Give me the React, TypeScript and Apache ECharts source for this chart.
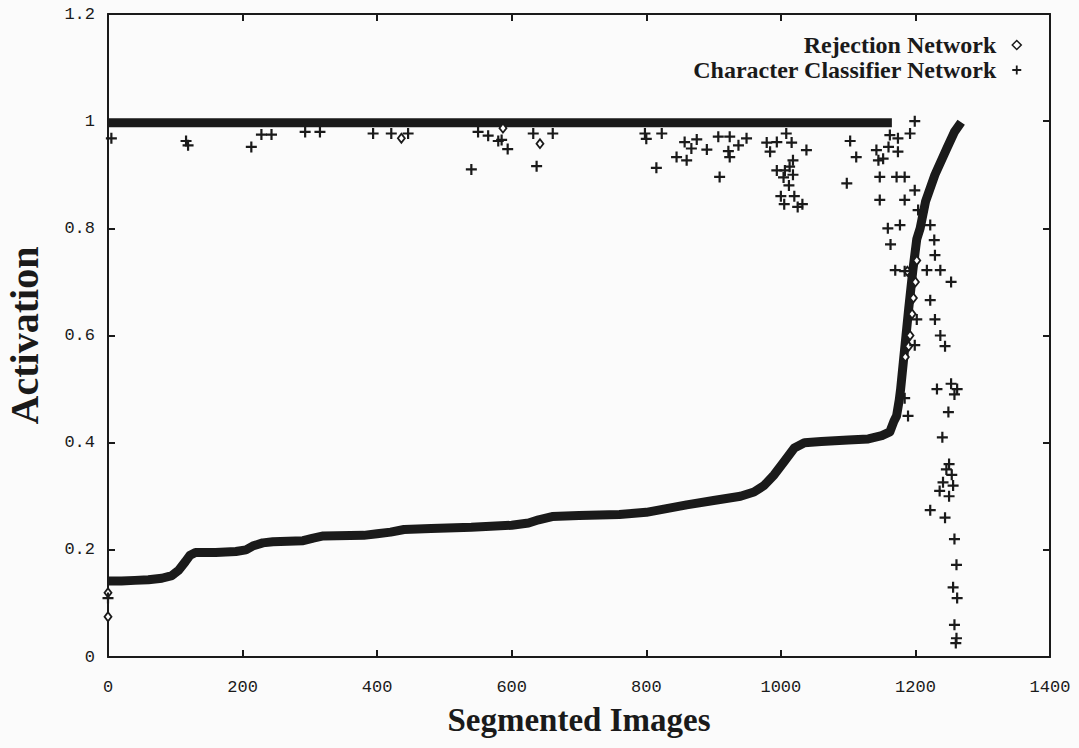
import React, { useEffect, useRef } from "react";
import * as echarts from "echarts";

const xTicks = [0, 200, 400, 600, 800, 1000, 1200, 1400];
const yTicks = [0, 0.2, 0.4, 0.6, 0.8, 1, 1.2];
const seriesNames = ["Rejection Network", "Character Classifier Network"];

// Rejection network activation (sorted curve)
const rejectionCurve: [number, number][] = [
  [0, 0.142], [20, 0.142], [40, 0.143], [60, 0.144], [80, 0.147], [95, 0.152],
  [105, 0.162], [115, 0.178], [122, 0.19], [130, 0.195], [160, 0.195], [190, 0.197],
  [205, 0.2], [215, 0.207], [230, 0.213], [245, 0.215], [290, 0.217], [305, 0.222],
  [320, 0.226], [380, 0.227], [400, 0.23], [420, 0.233], [440, 0.238], [480, 0.24],
  [540, 0.242], [600, 0.246], [625, 0.25], [640, 0.256], [660, 0.262], [700, 0.264],
  [760, 0.266], [800, 0.27], [830, 0.277], [860, 0.284], [900, 0.292], [940, 0.3],
  [960, 0.308], [975, 0.32], [990, 0.34], [1005, 0.365], [1020, 0.39], [1035, 0.4],
  [1060, 0.402], [1100, 0.405], [1130, 0.407], [1150, 0.413], [1162, 0.42], [1168, 0.44],
  [1172, 0.45], [1176, 0.48], [1178, 0.5], [1182, 0.55], [1186, 0.6], [1190, 0.65],
  [1196, 0.72], [1202, 0.78], [1207, 0.8], [1215, 0.85], [1229, 0.9], [1247, 0.95],
  [1258, 0.98], [1268, 0.998],
];

const rejectionOutliers: [number, number][] = [
  [0, 0.075], [0, 0.12], [1185, 0.56], [1190, 0.58], [1192, 0.6], [1195, 0.64],
  [1197, 0.67], [1200, 0.7], [1188, 0.72], [1202, 0.74], [436, 0.968], [587, 0.987],
  [642, 0.958],
];

// Character classifier: dense band near 1 plus scattered lower points
const classifierBand: [number, number][] = [
  [0, 0.997], [300, 0.997], [600, 0.997], [900, 0.997], [1165, 0.997],
];

const classifierPoints: [number, number][] = [
  [5, 0.968], [116, 0.963], [119, 0.955], [213, 0.952], [228, 0.975], [243, 0.975],
  [293, 0.98], [315, 0.98], [394, 0.977], [421, 0.977], [446, 0.977], [540, 0.91],
  [550, 0.98], [565, 0.973], [580, 0.963], [594, 0.948], [585, 0.965], [637, 0.916],
  [632, 0.977], [661, 0.977], [798, 0.977], [800, 0.967], [815, 0.913], [823, 0.977],
  [845, 0.933], [860, 0.927], [857, 0.961], [867, 0.949], [875, 0.966], [890, 0.947],
  [909, 0.896], [907, 0.971], [924, 0.971], [922, 0.944], [924, 0.933], [937, 0.955],
  [949, 0.968], [979, 0.96], [984, 0.943], [994, 0.961], [1008, 0.977], [1016, 0.96],
  [1018, 0.927], [1013, 0.915], [994, 0.908], [1006, 0.908], [1004, 0.895], [1038, 0.946],
  [1000, 0.86], [1005, 0.845], [1012, 0.88], [1020, 0.86], [1025, 0.84], [1032, 0.845],
  [1018, 0.9], [1103, 0.963], [1112, 0.933], [1098, 0.884], [1142, 0.946], [1145, 0.927],
  [1160, 0.952], [1174, 0.943], [1162, 0.974], [1174, 0.968], [1192, 0.977], [1199, 1.0],
  [1147, 0.896], [1172, 0.896], [1184, 0.896],
  [1147, 0.853], [1152, 0.93], [1159, 0.8], [1163, 0.77], [1170, 0.722], [1177, 0.806],
  [1184, 0.853], [1184, 0.72], [1199, 0.871], [1204, 0.834], [1184, 0.483], [1189, 0.45],
  [1199, 0.582], [1202, 0.63], [1217, 0.722], [1222, 0.806], [1228, 0.778], [1229, 0.75],
  [1222, 0.666], [1229, 0.63], [1237, 0.6], [1244, 0.58], [1237, 0.722], [1253, 0.7],
  [1232, 0.5], [1249, 0.457], [1253, 0.51], [1258, 0.49], [1262, 0.5], [1241, 0.326],
  [1222, 0.274], [1246, 0.35], [1250, 0.36], [1254, 0.34], [1256, 0.32], [1250, 0.3],
  [1244, 0.26], [1236, 0.31], [1240, 0.41], [1258, 0.22], [1261, 0.172], [1262, 0.11],
  [1256, 0.13], [1258, 0.06], [1261, 0.035], [1260, 0.026], [0, 0.11],
];

const plusPath = "path://M4,0H6V4H10V6H6V10H4V6H0V4H4Z";
const ink = "#1a1a1a";

export default function App() {
  const ref = useRef<HTMLDivElement>(null);
  useEffect(() => {
    if (!ref.current) return;
    const chart = echarts.init(ref.current, undefined, { renderer: "svg" });
    const monoLabel = { fontFamily: "Liberation Mono", fontSize: 17, color: ink };
    const axisCommon = {
      type: "value" as const,
      axisLine: { show: true, onZero: false, lineStyle: { color: ink, width: 2 } },
      axisTick: { show: true, inside: true, length: 7, lineStyle: { color: ink, width: 2 } },
      splitLine: { show: false },
    };
    const titleStyle = { fontFamily: "Liberation Serif", fontWeight: "bold" as const, color: ink };
    chart.setOption({
      animation: false,
      backgroundColor: "#fbfbfb",
      grid: { left: 108, right: 29, top: 14, bottom: 91, containLabel: false, outerBoundsMode: "none" },
      legend: {
        data: [
          { name: seriesNames[0], icon: "diamond", itemStyle: { color: "#fff", borderColor: ink, borderWidth: 1.5 } },
          { name: seriesNames[1], icon: plusPath, itemStyle: { color: ink } },
        ],
        orient: "vertical",
        align: "right",
        right: 52,
        top: 28,
        itemGap: 1,
        itemWidth: 9,
        itemHeight: 9,
        selectedMode: false,
        textStyle: {
          ...titleStyle,
          fontSize: 24,
          lineHeight: 24,
          padding: [0, 11, 0, 0],
        },
      },
      xAxis: [
        {
          ...axisCommon,
          min: 0,
          max: 1400,
          interval: 200,
          name: "Segmented Images",
          nameLocation: "middle",
          nameGap: 46,
          nameTextStyle: { ...titleStyle, fontSize: 33 },
          axisLabel: { ...monoLabel, margin: 22, formatter: (v: number) => (xTicks.includes(v) ? String(v) : "") },
        },
        {
          ...axisCommon,
          position: "top",
          min: 0,
          max: 1400,
          interval: 200,
          axisLabel: { show: false },
        },
      ],
      yAxis: [
        {
          ...axisCommon,
          min: 0,
          max: 1.2,
          interval: 0.2,
          name: "Activation",
          nameLocation: "middle",
          nameGap: 64,
          nameTextStyle: { ...titleStyle, fontSize: 40 },
          axisLabel: {
            ...monoLabel,
            margin: 13,
            formatter: (v: number) => {
              const t = yTicks.find((k) => Math.abs(k - v) < 1e-6);
              return t === undefined ? "" : String(t);
            },
          },
        },
        {
          ...axisCommon,
          position: "right",
          min: 0,
          max: 1.2,
          interval: 0.2,
          axisLabel: { show: false },
        },
      ],
      series: [
        {
          name: seriesNames[1],
          type: "line",
          data: classifierBand,
          symbol: "none",
          lineStyle: { color: ink, width: 9 },
          z: 2,
        },
        {
          name: seriesNames[0],
          type: "line",
          data: rejectionCurve,
          symbol: "none",
          lineStyle: { color: ink, width: 9, join: "round" },
          z: 2,
        },
        {
          name: seriesNames[0],
          type: "scatter",
          data: rejectionOutliers,
          symbol: "diamond",
          symbolSize: [7, 9],
          itemStyle: { color: "#fff", borderColor: ink, borderWidth: 1.8, opacity: 1 },
          z: 3,
        },
        {
          name: seriesNames[1],
          type: "scatter",
          data: classifierPoints,
          symbol: plusPath,
          symbolSize: 11,
          itemStyle: { color: ink, opacity: 1 },
          z: 4,
        },
      ],
    });
    return () => chart.dispose();
  }, []);
  return (
    <div
      ref={ref}
      style={{ position: "fixed", left: 0, top: 0, width: 1079, height: 748 }}
    />
  );
}
